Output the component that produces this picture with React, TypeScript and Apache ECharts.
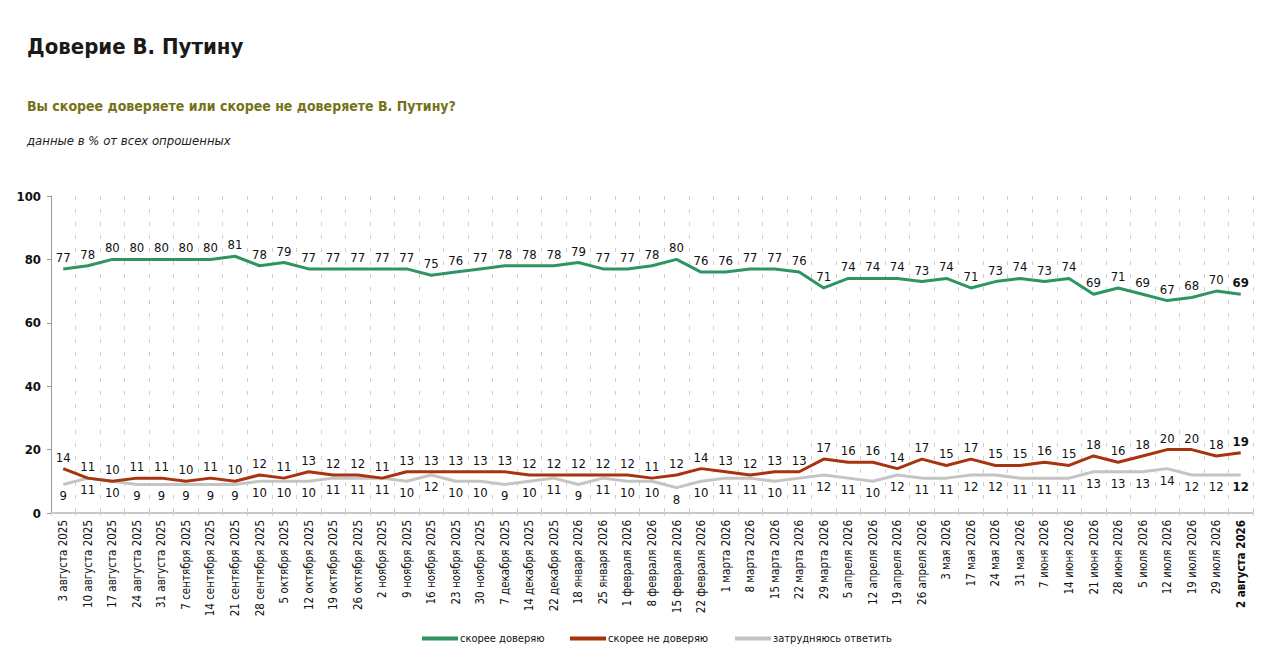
import React, { useEffect, useRef } from "react";
import * as echarts from "echarts";

const categories = [
  "3 августа 2025", "10 августа 2025", "17 августа 2025", "24 августа 2025", "31 августа 2025",
  "7 сентября 2025", "14 сентября 2025", "21 сентября 2025", "28 сентября 2025", "5 октября 2025",
  "12 октября 2025", "19 октября 2025", "26 октября 2025", "2 ноября 2025", "9 ноября 2025",
  "16 ноября 2025", "23 ноября 2025", "30 ноября 2025", "7 декабря 2025", "14 декабря 2025",
  "22 декабря 2025", "18 января 2026", "25 января 2026", "1 февраля 2026", "8 февраля 2026",
  "15 февраля 2026", "22 февраля 2026", "1 марта 2026", "8 марта 2026", "15 марта 2026",
  "22 марта 2026", "29 марта 2026", "5 апреля 2026", "12 апреля 2026", "19 апреля 2026",
  "26 апреля 2026", "3 мая 2026", "17 мая 2026", "24 мая 2026", "31 мая 2026",
  "7 июня 2026", "14 июня 2026", "21 июня 2026", "28 июня 2026", "5 июля 2026",
  "12 июля 2026", "19 июля 2026", "29 июля 2026", "2 августа 2026",
];

const trust = [
  77, 78, 80, 80, 80, 80, 80, 81, 78, 79,
  77, 77, 77, 77, 77, 75, 76, 77, 78, 78,
  78, 79, 77, 77, 78, 80, 76, 76, 77, 77,
  76, 71, 74, 74, 74, 73, 74, 71, 73, 74,
  73, 74, 69, 71, 69, 67, 68, 70, 69,
];

const distrust = [
  14, 11, 10, 11, 11, 10, 11, 10, 12, 11,
  13, 12, 12, 11, 13, 13, 13, 13, 13, 12,
  12, 12, 12, 12, 11, 12, 14, 13, 12, 13,
  13, 17, 16, 16, 14, 17, 15, 17, 15, 15,
  16, 15, 18, 16, 18, 20, 20, 18, 19,
];

const unsure = [
  9, 11, 10, 9, 9, 9, 9, 9, 10, 10,
  10, 11, 11, 11, 10, 12, 10, 10, 9, 10,
  11, 9, 11, 10, 10, 8, 10, 11, 11, 10,
  11, 12, 11, 10, 12, 11, 11, 12, 12, 11,
  11, 11, 13, 13, 13, 14, 12, 12, 12,
];

const seriesNames = ["скорее доверяю", "скорее не доверяю", "затрудняюсь ответить"];
const seriesColors = ["#2e9462", "#a8330f", "#c4c4c4"];
const legendLefts = [422, 570, 735];

const FONT = "'DejaVu Sans Condensed', 'Open Sans', sans-serif";

function withBoldLast(arr: number[]) {
  return arr.map((v, i) =>
    i === arr.length - 1 ? { value: v, label: { fontWeight: "bold" } } : v
  );
}

export default function App() {
  const ref = useRef<HTMLDivElement>(null);

  useEffect(() => {
    if (!ref.current) return;
    const chart = echarts.init(ref.current, undefined, { renderer: "svg" });
    const mkSeries = (idx: number, data: number[], pos: string) => ({
      name: seriesNames[idx],
      type: "line",
      data: withBoldLast(data),
      symbol: "circle",
      symbolSize: 0,
      color: seriesColors[idx],
      lineStyle: { width: 3, color: seriesColors[idx] },
      itemStyle: { color: seriesColors[idx] },
      label: {
        show: true,
        position: pos,
        distance: 5,
        fontFamily: FONT,
        fontSize: 13,
        color: "#111",
      },
      z: 3 - idx,
    });
    chart.setOption({
      animation: false,
      backgroundColor: "#ffffff",
      textStyle: { fontFamily: FONT },
      title: [
        {
          text: "Доверие В. Путину",
          left: 22,
          top: 30,
          textStyle: { fontFamily: FONT, fontSize: 22, fontWeight: "bold", color: "#1a1a1a" },
        },
        {
          text: "Вы скорее доверяете или скорее не доверяете В. Путину?",
          left: 22,
          top: 94,
          textStyle: { fontFamily: FONT, fontSize: 14, fontWeight: "bold", color: "#757219" },
        },
        {
          text: "данные в % от всех опрошенных",
          left: 22,
          top: 129,
          textStyle: { fontFamily: FONT, fontSize: 13, fontStyle: "italic", fontWeight: "normal", color: "#222" },
        },
      ],
      legend: seriesNames.map((n, i) => ({
        data: [n],
        left: legendLefts[i] - 5,
        top: 628,
        icon: "rect",
        itemWidth: 36,
        itemHeight: 4,
        textStyle: { fontFamily: FONT, fontSize: 11, color: "#111", padding: [0, 0, 0, -3] },
      })),
      grid: { left: 51, right: 27, top: 196, bottom: 159, containLabel: false },
      xAxis: {
        type: "category",
        data: categories,
        boundaryGap: true,
        axisLine: { show: true, lineStyle: { color: "#c8c8c8", width: 2 } },
        axisTick: { show: true, length: 3, lineStyle: { color: "#d0d0d0" } },
        splitLine: { show: true, lineStyle: { color: "#cfcfcf", type: [4, 9], width: 1 } },
        axisLabel: {
          interval: 0,
          rotate: 90,
          margin: 7,
          fontFamily: FONT,
          fontSize: 11.5,
          color: "#111",
          formatter: (v: string, i: number) =>
            i === categories.length - 1 ? "{b|" + v + "}" : v,
          rich: { b: { fontWeight: "bold", fontFamily: FONT, fontSize: 11.5, color: "#111" } },
        },
      },
      yAxis: {
        type: "value",
        min: 0,
        max: 100,
        interval: 20,
        axisLine: { show: true, lineStyle: { color: "#9a9a9a", width: 1 } },
        axisTick: { show: true, length: 4, lineStyle: { color: "#9a9a9a" } },
        splitLine: { show: false },
        axisLabel: { fontFamily: FONT, fontSize: 13, fontWeight: "bold", color: "#111", margin: 10 },
      },
      series: [
        mkSeries(0, trust, "top"),
        mkSeries(1, distrust, "top"),
        mkSeries(2, unsure, "bottom"),
      ],
    });
    return () => chart.dispose();
  }, []);

  return (
    <div
      ref={ref}
      style={{ position: "fixed", left: 0, top: 0, width: 1280, height: 672, background: "#fff" }}
    />
  );
}
